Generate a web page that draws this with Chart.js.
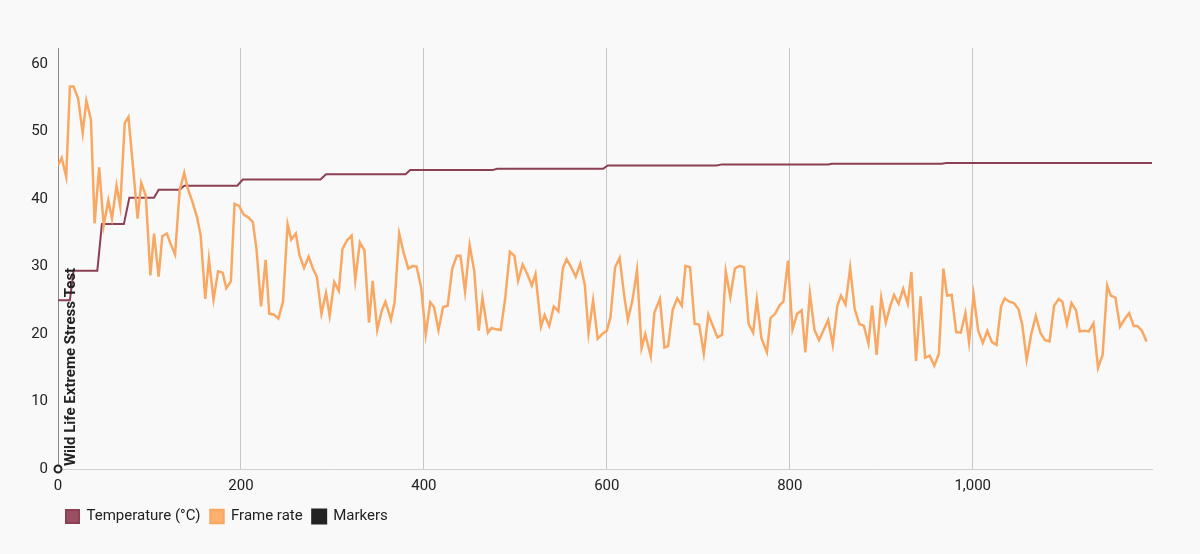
<!DOCTYPE html>
<html>
<head>
<meta charset="utf-8">
<script src="https://cdn.jsdelivr.net/npm/chart.js@4.4.1/dist/chart.umd.min.js"></script>
<style>
  html, body { margin: 0; padding: 0; background: #f9f9f9; }
  canvas { display: block; }
</style>
</head>
<body>
<canvas id="chart" width="1200" height="554"></canvas>
<script>
// temperature (step line)
const tempTimes = [0, 13, 17, 43, 48, 72, 78, 105, 110, 133, 138, 196, 202, 287, 293, 380, 385, 475, 480, 596, 601, 720, 726, 842, 846, 966, 971, 1196];
const tempValues = [25, 25, 29.4, 29.4, 36.3, 36.3, 40.2, 40.2, 41.4, 41.4, 42.0, 42.0, 42.9, 42.9, 43.7, 43.7, 44.3, 44.3, 44.5, 44.5, 45.0, 45.0, 45.15, 45.15, 45.25, 45.25, 45.35, 45.35];

// frame rate
const fpsTimes = [
  0, 4, 9, 13, 17, 22, 27, 31, 36, 40, 45, 50, 55, 59, 64, 68, 73, 77, 82, 87,
  91, 96, 101, 105, 110, 114, 119, 123, 128, 133, 138, 142, 147, 152, 156, 161, 165, 170, 175, 180,
  184, 189, 193, 198, 203, 208, 213, 217, 222, 227, 231, 236, 241, 246, 251, 255, 260, 264, 269, 274,
  279, 283, 288, 293, 297, 302, 307, 311, 316, 321, 325, 330, 335, 340, 344, 349, 354, 358, 364, 368,
  373, 378, 383, 388, 392, 397, 402, 407, 411, 416, 421, 426, 431, 436, 440, 445, 450, 455, 460, 464,
  470, 474, 479, 484, 489, 494, 499, 503, 508, 513, 518, 522, 528, 532, 537, 542, 547, 552, 556, 561,
  566, 571, 576, 580, 585, 590, 595, 600, 604, 609, 614, 619, 623, 628, 633, 638, 642, 648, 652, 658,
  663, 667, 672, 677, 682, 686, 691, 696, 701, 706, 711, 716, 721, 726, 730, 735, 740, 745, 750, 755,
  760, 764, 769, 775, 779, 784, 789, 793, 798, 803, 808, 813, 817, 822, 827, 832, 837, 842, 847, 852,
  856, 861, 866, 871, 876, 881, 886, 890, 895, 900, 905, 910, 914, 919, 924, 929, 933, 938, 943, 948,
  953, 958, 963, 968, 972, 977, 982, 987, 992, 996, 1001, 1006, 1011, 1016, 1021, 1026, 1031, 1035, 1040, 1045,
  1050, 1054, 1059, 1064, 1069, 1074, 1079, 1084, 1089, 1094, 1098, 1103, 1108, 1113, 1117, 1122, 1127, 1132, 1137, 1142,
  1147, 1151, 1156, 1161, 1166, 1171, 1176, 1180, 1185, 1190
];
const fpsValues = [
  45.0, 46.1, 43.3, 56.7, 56.7, 54.9, 49.8, 54.6, 51.8, 36.4, 44.7, 36.1, 39.8, 37.1, 42.0, 38.9, 51.3, 52.2, 44.8, 37.1,
  42.4, 40.5, 28.7, 34.9, 28.5, 34.5, 34.9, 33.4, 31.8, 41.3, 43.9, 41.5, 39.6, 37.3, 34.6, 25.2, 31.1, 25.1, 29.3, 29.1,
  26.8, 27.8, 39.3, 39.0, 37.7, 37.3, 36.6, 32.6, 24.1, 31.0, 23.0, 22.9, 22.3, 24.8, 36.3, 34.0, 34.9, 31.7, 29.8, 31.5,
  29.6, 28.5, 23.0, 26.1, 22.7, 27.7, 26.4, 32.6, 33.9, 34.6, 28.0, 33.6, 32.4, 21.7, 27.9, 20.6, 23.5, 24.8, 22.1, 24.7,
  34.9, 32.0, 29.7, 30.1, 30.0, 26.9, 19.9, 24.7, 24.0, 20.6, 24.0, 24.2, 29.7, 31.6, 31.6, 26.3, 33.2, 29.4, 20.5, 25.4,
  20.2, 20.9, 20.7, 20.6, 25.4, 32.2, 31.6, 27.9, 30.3, 28.9, 27.2, 28.9, 21.1, 22.8, 21.2, 24.1, 23.4, 29.8, 31.1, 29.9,
  28.5, 30.4, 27.2, 20.1, 25.0, 19.3, 20.0, 20.5, 22.5, 29.9, 31.3, 25.7, 22.1, 25.0, 29.5, 17.9, 20.0, 16.7, 23.2, 25.2,
  18.0, 18.2, 23.6, 25.3, 24.2, 30.1, 29.9, 21.5, 21.4, 17.1, 22.9, 21.2, 19.5, 19.9, 29.3, 25.5, 29.7, 30.1, 29.9, 21.5,
  20.2, 25.1, 19.4, 17.3, 22.4, 23.0, 24.3, 24.8, 30.9, 20.7, 23.0, 23.5, 17.3, 26.0, 20.6, 19.1, 20.6, 22.1, 18.4, 24.2,
  25.7, 24.4, 29.8, 23.7, 21.5, 21.2, 18.6, 24.2, 16.9, 25.4, 21.7, 24.2, 25.8, 24.5, 26.7, 24.5, 29.2, 16.0, 25.6, 16.5,
  16.8, 15.3, 17.1, 29.7, 25.7, 25.8, 20.3, 20.2, 23.1, 18.8, 25.8, 20.5, 18.7, 20.5, 18.8, 18.4, 24.1, 25.3, 24.8, 24.6,
  23.7, 21.5, 16.2, 20.0, 22.7, 20.2, 19.1, 18.9, 24.2, 25.2, 24.8, 21.5, 24.6, 23.5, 20.4, 20.5, 20.4, 21.6, 15.0, 16.9,
  27.2, 25.7, 25.4, 21.1, 22.2, 23.1, 21.2, 21.2, 20.5, 18.9
];

// markers
const markerTimes = [0];
const markerValues = [0];
const markerLabels = ['Wild Life Extreme Stress Test'];

// axes
const xTicks = [0, 200, 400, 600, 800, 1000];
const yTicks = [0, 10, 20, 30, 40, 50, 60];
const xMax = 1196;
const yMax = 62.4;

const toPoints = (xs, ys) => xs.map((x, i) => ({ x: x, y: ys[i] }));

const markerText = {
    id: 'markerText',
    afterDatasetsDraw(chart) {
        const meta = chart.getDatasetMeta(2);
        const ctx = chart.ctx;
        meta.data.forEach((pt, i) => {
            ctx.save();
            ctx.translate(pt.x + 13.5, pt.y - 3);
            ctx.rotate(-Math.PI / 2);
            ctx.font = 'bold 15px Roboto';
            ctx.fillStyle = '#222';
            ctx.textAlign = 'left';
            ctx.textBaseline = 'middle';
            ctx.fillText(markerLabels[i], 0, 0);
            ctx.restore();
        });
    }
};

// legend sits a bit in from the left edge
const legendShift = {
    id: 'legendShift',
    beforeDraw(chart) {
        if (chart.legend) chart.legend.left = 56;
    }
};

Chart.defaults.font.family = 'Roboto';
Chart.defaults.font.size = 15;
Chart.defaults.color = '#222';

new Chart(document.getElementById('chart'), {
    type: 'line',
    data: {
        datasets: [{
            label: 'Temperature (°C)',
            data: toPoints(tempTimes, tempValues),
            borderColor: '#8d3f53',
            backgroundColor: '#9a5062',
            borderWidth: 2,
            pointRadius: 0,
            tension: 0,
            order: 1
        }, {
            label: 'Frame rate',
            data: toPoints(fpsTimes, fpsValues),
            borderColor: '#f9a863',
            backgroundColor: '#fbb070',
            borderWidth: 2.5,
            pointRadius: 0,
            tension: 0,
            order: 0
        }, {
            label: 'Markers',
            data: toPoints(markerTimes, markerValues),
            showLine: false,
            borderColor: '#222',
            backgroundColor: '#222',
            pointRadius: 3.5,
            pointBorderWidth: 2,
            pointBorderColor: '#222',
            pointBackgroundColor: '#f9f9f9',
            clip: false,
            order: -1
        }]
    },
    options: {
        responsive: false,
        animation: false,
        layout: { padding: { top: 48, right: 48, left: 0, bottom: 20 } },
        scales: {
            x: {
                type: 'linear',
                min: 0,
                max: xMax,
                afterBuildTicks: s => { s.ticks = xTicks.map(v => ({ value: v })); },
                afterFit: s => { s.height = 30; },
                ticks: { padding: 8, maxRotation: 0, autoSkip: false },
                grid: { color: '#c6c6c6', drawTicks: false },
                border: { color: '#cfcfcf' }
            },
            y: {
                min: 0,
                max: yMax,
                afterBuildTicks: s => { s.ticks = yTicks.map(v => ({ value: v })); },
                afterFit: s => { s.width = 58; },
                ticks: { padding: 10, autoSkip: false },
                grid: { color: 'rgba(0,0,0,0)', drawTicks: false },
                border: { color: '#8a8a8a' }
            }
        },
        plugins: {
            legend: {
                position: 'bottom',
                align: 'start',
                labels: {
                    boxWidth: 13,
                    boxHeight: 13,
                    padding: 10,
                    font: { size: 15 },
                    sort: (a, b) => a.datasetIndex - b.datasetIndex
                }
            },
            tooltip: { enabled: false }
        }
    },
    plugins: [markerText, legendShift]
});
</script>
</body>
</html>
